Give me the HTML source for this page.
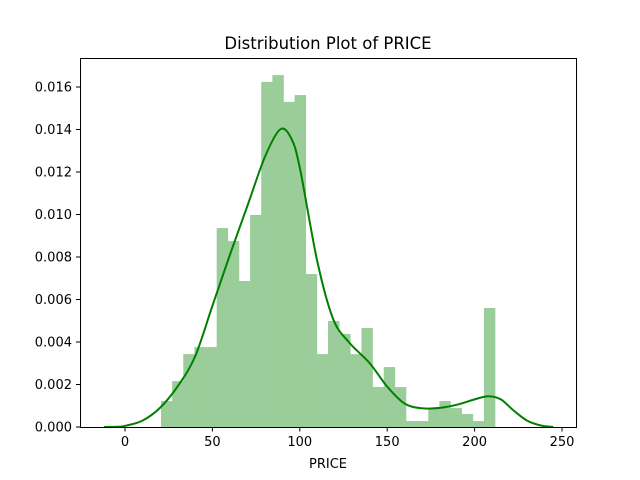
<!DOCTYPE html>
<html><head><meta charset="utf-8"><style>
body{margin:0;background:#fff}
svg{display:block;font-family:"DejaVu Sans","Liberation Sans",sans-serif}
</style></head><body>
<svg id="chart" width="640" height="480">
<text x="328" y="49" font-size="16.5" text-anchor="middle">Distribution Plot of PRICE</text>
<g id="bars"></g>
<path id="kde" fill="none" stroke="#008000" stroke-width="2"></path>
<rect x="80.5" y="58.5" width="496" height="369" fill="none" stroke="#000" stroke-width="1"></rect>
<g id="xticks"></g>
<g id="yticks"></g>
<text x="328" y="468" font-size="13" text-anchor="middle">PRICE</text>
</svg>
<script>
const binStart = 20.6;
const binWidth = 6.37;
const binHeights = [0.00122,0.00216,0.00343,0.00376,0.00376,0.00936,0.00875,0.00687,0.00998,0.01624,0.01656,0.0153,0.01562,0.0072,0.00343,0.00499,0.00438,0.00343,0.00466,0.00188,0.00282,0.00188,0.00028,0.00028,0.00089,0.00122,0.00089,0.00061,0.00028,0.0056];
const kdeX = [-12,-4,0,10,20,30,40,50,60,70,80,88.7,95,100,110,119,128,140,150,160,170,180,190,200,208,215,222,230,238,245];
const kdeY = [0,0.00001,0.00005,0.0003,0.0009,0.0019,0.0033,0.0057,0.0081,0.0104,0.0127,0.0140,0.0136,0.0122,0.0078,0.0051,0.0040,0.0030,0.0019,0.0011,0.00088,0.0009,0.00105,0.0013,0.00145,0.0013,0.0008,0.0003,0.00007,0];
const xTicks = [0,50,100,150,200,250];
const yTicks = [0,0.002,0.004,0.006,0.008,0.010,0.012,0.014,0.016];

const NS="http://www.w3.org/2000/svg";
function sx(v){return 125+v*1.748;}
function sy(v){return 427-v*21250;}
const bars=document.getElementById('bars');
binHeights.forEach((h,i)=>{
  const r=document.createElementNS(NS,'rect');
  const x0=sx(binStart+i*binWidth), x1=sx(binStart+(i+1)*binWidth);
  r.setAttribute('x',x0);r.setAttribute('width',x1-x0+0.3);
  r.setAttribute('y',sy(h));r.setAttribute('height',sy(0)-sy(h));
  r.setAttribute('fill','#9acd99');
  
  
  bars.appendChild(r);
});
const pts=kdeX.map((x,i)=>[sx(x),sy(kdeY[i])]);
let d='M'+pts[0][0]+','+pts[0][1];
for(let i=0;i<pts.length-1;i++){
  const p0=pts[Math.max(0,i-1)],p1=pts[i],p2=pts[i+1],p3=pts[Math.min(pts.length-1,i+2)];
  const c1=[p1[0]+(p2[0]-p0[0])/6,p1[1]+(p2[1]-p0[1])/6];
  const c2=[p2[0]-(p3[0]-p1[0])/6,p2[1]-(p3[1]-p1[1])/6];
  d+=' C'+c1+' '+c2+' '+p2;
}
document.getElementById('kde').setAttribute('d',d);
const xg=document.getElementById('xticks');
xTicks.forEach(t=>{
  const l=document.createElementNS(NS,'line');
  l.setAttribute('x1',sx(t));l.setAttribute('x2',sx(t));l.setAttribute('y1',427);l.setAttribute('y2',431.5);l.setAttribute('stroke','#000');
  
  
  xg.appendChild(l);
  const tx=document.createElementNS(NS,'text');
  tx.setAttribute('x',sx(t));tx.setAttribute('y',446);tx.setAttribute('font-size','13');tx.setAttribute('text-anchor','middle');
  tx.textContent=t;
  
  
  xg.appendChild(tx);
});
const yg=document.getElementById('yticks');
yTicks.forEach(t=>{
  const l=document.createElementNS(NS,'line');
  l.setAttribute('x1',76);l.setAttribute('x2',80.5);l.setAttribute('y1',sy(t));l.setAttribute('y2',sy(t));l.setAttribute('stroke','#000');
  
  
  yg.appendChild(l);
  const tx=document.createElementNS(NS,'text');
  tx.setAttribute('x',72);tx.setAttribute('y',sy(t)+4.5);tx.setAttribute('font-size','13');tx.setAttribute('text-anchor','end');
  tx.textContent=t.toFixed(3);
  
  
  yg.appendChild(tx);
});
</script>
</body></html>
